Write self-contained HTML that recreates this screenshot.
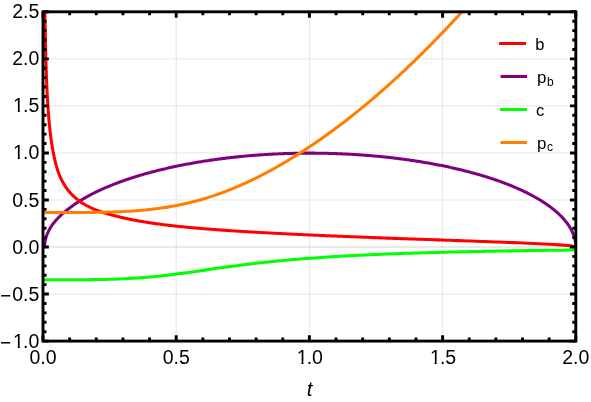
<!DOCTYPE html>
<html>
<head>
<meta charset="utf-8">
<title>Plot</title>
<style>
html,body{margin:0;padding:0;background:#ffffff;}
body{width:591px;height:402px;overflow:hidden;font-family:"Liberation Sans",sans-serif;}
svg{display:block;will-change:transform;}
</style>
</head>
<body>
<svg width="591" height="402" viewBox="0 0 591 402">
<rect x="0" y="0" width="591" height="402" fill="#ffffff"/>
<defs><clipPath id="cp"><rect x="43.00" y="11.80" width="532.80" height="329.30"/></clipPath><clipPath id="c1"><path d="M-1 -16H12V-2.6H6.8V1H4.75V-2.6H-1Z"/></clipPath></defs>
<g fill="none" stroke-linecap="butt">
<line x1="176.20" y1="11.80" x2="176.20" y2="341.10" stroke="#e6e6e6" stroke-width="1"/>
<line x1="309.40" y1="11.80" x2="309.40" y2="341.10" stroke="#e6e6e6" stroke-width="1"/>
<line x1="442.60" y1="11.80" x2="442.60" y2="341.10" stroke="#e6e6e6" stroke-width="1"/>
<line x1="43.00" y1="294.06" x2="575.80" y2="294.06" stroke="#e5e5e5" stroke-width="1"/>
<line x1="43.00" y1="199.97" x2="575.80" y2="199.97" stroke="#e5e5e5" stroke-width="1"/>
<line x1="43.00" y1="152.93" x2="575.80" y2="152.93" stroke="#e5e5e5" stroke-width="1"/>
<line x1="43.00" y1="105.89" x2="575.80" y2="105.89" stroke="#e5e5e5" stroke-width="1"/>
<line x1="43.00" y1="58.84" x2="575.80" y2="58.84" stroke="#e5e5e5" stroke-width="1"/>
<line x1="43.00" y1="247.01" x2="575.80" y2="247.01" stroke="#d4d4d4" stroke-width="1.2"/>
</g>
<g fill="none" stroke-width="3.05" stroke-linejoin="round" stroke-linecap="butt" clip-path="url(#cp)">
<path d="M44.60 247.01 L44.60 247.01 L44.61 247.01 L44.63 246.41 L44.66 245.59 L44.69 244.97 L44.73 244.41 L44.78 243.88 L44.83 243.35 L44.89 242.84 L44.96 242.33 L45.04 241.83 L45.12 241.33 L45.21 240.83 L45.31 240.33 L45.42 239.84 L45.53 239.34 L45.65 238.85 L45.78 238.36 L45.91 237.87 L46.05 237.38 L46.20 236.89 L46.36 236.41 L46.52 235.92 L46.69 235.43 L46.87 234.95 L47.06 234.46 L47.25 233.98 L47.45 233.49 L47.65 233.01 L47.87 232.52 L48.09 232.04 L48.32 231.56 L48.55 231.08 L48.80 230.60 L49.05 230.11 L49.30 229.63 L49.57 229.16 L49.84 228.68 L50.12 228.20 L50.40 227.72 L50.70 227.24 L50.99 226.77 L51.30 226.30 L51.62 225.84 L51.94 225.38 L52.27 224.91 L52.60 224.45 L52.94 223.99 L53.29 223.53 L53.65 223.07 L54.01 222.61 L54.38 222.15 L54.76 221.69 L55.14 221.23 L55.54 220.78 L55.93 220.32 L56.34 219.86 L56.75 219.41 L57.17 218.95 L57.60 218.50 L58.03 218.04 L58.47 217.59 L58.92 217.14 L59.37 216.68 L59.83 216.23 L60.30 215.78 L60.78 215.33 L61.26 214.88 L61.74 214.44 L62.24 213.99 L62.74 213.54 L63.25 213.10 L63.77 212.65 L64.29 212.21 L64.82 211.77 L65.35 211.33 L65.89 210.88 L66.44 210.44 L67.00 210.01 L67.56 209.57 L68.13 209.13 L68.71 208.70 L69.29 208.26 L69.88 207.82 L70.47 207.37 L71.07 206.91 L71.68 206.46 L72.30 206.01 L72.92 205.57 L73.55 205.12 L74.18 204.67 L74.82 204.23 L75.47 203.79 L76.12 203.35 L76.78 202.91 L77.45 202.47 L78.12 202.03 L78.80 201.60 L79.49 201.16 L80.18 200.73 L80.88 200.30 L81.59 199.87 L82.30 199.44 L83.01 199.01 L83.74 198.59 L84.47 198.17 L85.20 197.74 L85.95 197.32 L86.69 196.90 L87.45 196.48 L88.21 196.07 L88.97 195.65 L89.75 195.24 L90.53 194.83 L91.31 194.42 L92.10 194.01 L92.90 193.60 L93.70 193.19 L94.51 192.79 L95.32 192.39 L96.14 191.99 L96.97 191.59 L97.80 191.19 L98.64 190.79 L99.48 190.40 L100.33 190.00 L101.19 189.61 L102.05 189.22 L102.92 188.84 L103.79 188.45 L104.67 188.06 L105.55 187.68 L106.44 187.30 L107.33 186.92 L108.23 186.54 L109.14 186.17 L110.05 185.79 L110.97 185.42 L111.89 185.05 L112.82 184.68 L113.75 184.31 L114.69 183.94 L115.64 183.58 L116.58 183.22 L117.54 182.86 L118.50 182.50 L119.46 182.14 L120.43 181.79 L121.41 181.44 L122.39 181.08 L123.38 180.73 L124.37 180.39 L125.36 180.04 L126.37 179.70 L127.37 179.36 L128.38 179.02 L129.40 178.68 L130.42 178.34 L131.45 178.01 L132.48 177.68 L133.51 177.35 L134.55 177.02 L135.60 176.69 L136.65 176.37 L137.71 176.04 L138.77 175.72 L139.83 175.40 L140.90 175.09 L141.97 174.77 L143.05 174.46 L144.13 174.15 L145.22 173.84 L146.31 173.54 L147.41 173.23 L148.51 172.93 L149.62 172.63 L150.73 172.33 L151.84 172.04 L152.96 171.74 L154.08 171.45 L155.21 171.16 L156.34 170.87 L157.48 170.59 L158.62 170.30 L159.76 170.02 L160.91 169.74 L162.06 169.47 L163.22 169.19 L164.38 168.92 L165.54 168.65 L166.71 168.38 L167.88 168.11 L169.06 167.85 L170.24 167.59 L171.42 167.33 L172.61 167.07 L173.80 166.82 L175.00 166.56 L176.20 166.31 L177.40 166.06 L178.60 165.81 L179.81 165.56 L181.03 165.32 L182.25 165.07 L183.47 164.83 L184.69 164.59 L185.92 164.36 L187.15 164.12 L188.38 163.89 L189.62 163.66 L190.86 163.43 L192.10 163.21 L193.35 162.99 L194.60 162.77 L195.86 162.55 L197.11 162.33 L198.37 162.12 L199.63 161.91 L200.90 161.70 L202.17 161.50 L203.44 161.29 L204.72 161.09 L205.99 160.89 L207.27 160.70 L208.56 160.50 L209.84 160.31 L211.13 160.12 L212.43 159.93 L213.72 159.75 L215.02 159.57 L216.32 159.39 L217.62 159.21 L218.92 159.04 L220.23 158.87 L221.54 158.70 L222.85 158.53 L224.17 158.37 L225.48 158.20 L226.80 158.04 L228.12 157.89 L229.45 157.73 L230.77 157.58 L232.10 157.43 L233.43 157.28 L234.76 157.14 L236.10 157.00 L237.44 156.86 L238.77 156.72 L240.11 156.59 L241.46 156.45 L242.80 156.32 L244.15 156.20 L245.49 156.07 L246.84 155.95 L248.20 155.83 L249.55 155.71 L250.90 155.60 L252.26 155.49 L253.62 155.38 L254.98 155.27 L256.34 155.17 L257.70 155.07 L259.07 154.97 L260.43 154.87 L261.80 154.78 L263.17 154.69 L264.53 154.60 L265.91 154.51 L267.28 154.43 L268.65 154.35 L270.02 154.27 L271.40 154.19 L272.78 154.12 L274.15 154.05 L275.53 153.98 L276.91 153.91 L278.29 153.85 L279.67 153.79 L281.05 153.73 L282.44 153.68 L283.82 153.62 L285.20 153.57 L286.59 153.53 L287.97 153.48 L289.36 153.44 L290.75 153.40 L292.13 153.36 L293.52 153.33 L294.91 153.30 L296.30 153.27 L297.69 153.24 L299.08 153.22 L300.47 153.19 L301.86 153.17 L303.25 153.16 L304.64 153.14 L306.03 153.13 L307.42 153.12 L308.81 153.12 L310.20 153.12 L311.59 153.12 L312.98 153.13 L314.37 153.14 L315.76 153.15 L317.15 153.16 L318.54 153.18 L319.93 153.20 L321.32 153.22 L322.71 153.25 L324.10 153.27 L325.49 153.30 L326.88 153.34 L328.26 153.37 L329.65 153.41 L331.04 153.45 L332.42 153.49 L333.81 153.54 L335.19 153.58 L336.58 153.63 L337.96 153.69 L339.34 153.74 L340.73 153.80 L342.11 153.86 L343.49 153.92 L344.87 153.99 L346.25 154.05 L347.62 154.12 L349.00 154.20 L350.37 154.27 L351.75 154.35 L353.12 154.43 L354.49 154.51 L355.86 154.60 L357.23 154.69 L358.60 154.78 L359.97 154.87 L361.33 154.96 L362.70 155.06 L364.06 155.16 L365.42 155.26 L366.78 155.37 L368.14 155.48 L369.49 155.59 L370.85 155.70 L372.20 155.82 L373.55 155.93 L374.90 156.05 L376.25 156.18 L377.60 156.30 L378.94 156.43 L380.28 156.56 L381.62 156.69 L382.96 156.83 L384.30 156.96 L385.63 157.10 L386.97 157.25 L388.30 157.39 L389.62 157.54 L390.95 157.69 L392.27 157.84 L393.60 157.99 L394.92 158.15 L396.23 158.31 L397.55 158.47 L398.86 158.64 L400.17 158.80 L401.48 158.97 L402.78 159.14 L404.08 159.32 L405.38 159.49 L406.68 159.67 L407.97 159.85 L409.27 160.04 L410.55 160.22 L411.84 160.41 L413.12 160.60 L414.40 160.79 L415.68 160.99 L416.96 161.18 L418.23 161.38 L419.50 161.59 L420.76 161.79 L422.03 162.00 L423.29 162.21 L424.54 162.42 L425.80 162.63 L427.05 162.85 L428.29 163.07 L429.54 163.29 L430.78 163.51 L432.02 163.73 L433.25 163.96 L434.48 164.19 L435.71 164.42 L436.93 164.66 L438.15 164.89 L439.37 165.13 L440.58 165.37 L441.79 165.61 L443.00 165.86 L444.20 166.11 L445.40 166.35 L446.60 166.60 L447.79 166.86 L448.98 167.11 L450.16 167.37 L451.34 167.63 L452.52 167.89 L453.69 168.15 L454.86 168.42 L456.02 168.69 L457.18 168.96 L458.34 169.23 L459.49 169.51 L460.64 169.78 L461.78 170.06 L462.92 170.34 L464.06 170.63 L465.19 170.91 L466.32 171.20 L467.44 171.49 L468.56 171.78 L469.67 172.07 L470.78 172.37 L471.89 172.66 L472.99 172.96 L474.08 173.27 L475.18 173.57 L476.26 173.88 L477.35 174.18 L478.43 174.49 L479.50 174.80 L480.57 175.12 L481.63 175.43 L482.69 175.75 L483.75 176.07 L484.80 176.39 L485.84 176.72 L486.88 177.04 L487.92 177.37 L488.95 177.70 L489.98 178.03 L491.00 178.36 L492.02 178.70 L493.03 179.03 L494.03 179.37 L495.03 179.71 L496.03 180.05 L497.02 180.40 L498.01 180.74 L498.99 181.09 L499.96 181.44 L500.93 181.79 L501.90 182.15 L502.86 182.50 L503.81 182.86 L504.76 183.22 L505.71 183.58 L506.65 183.94 L507.58 184.30 L508.51 184.67 L509.43 185.03 L510.35 185.40 L511.26 185.77 L512.16 186.15 L513.06 186.52 L513.96 186.90 L514.85 187.27 L515.73 187.65 L516.61 188.03 L517.48 188.41 L518.35 188.80 L519.21 189.18 L520.07 189.57 L520.91 189.96 L521.76 190.35 L522.60 190.74 L523.43 191.13 L524.25 191.53 L525.07 191.92 L525.89 192.32 L526.70 192.72 L527.50 193.12 L528.30 193.52 L529.09 193.93 L529.87 194.33 L530.65 194.74 L531.42 195.15 L532.19 195.56 L532.95 195.97 L533.71 196.38 L534.45 196.79 L535.20 197.21 L535.93 197.62 L536.66 198.04 L537.38 198.46 L538.10 198.88 L538.81 199.30 L539.52 199.73 L540.22 200.15 L540.91 200.58 L541.59 201.00 L542.27 201.43 L542.95 201.86 L543.61 202.29 L544.27 202.72 L544.93 203.16 L545.58 203.59 L546.22 204.03 L546.85 204.46 L547.48 204.90 L548.10 205.34 L548.72 205.78 L549.32 206.22 L549.93 206.66 L550.52 207.11 L551.11 207.55 L551.69 208.00 L552.27 208.44 L552.84 208.89 L553.40 209.34 L553.96 209.79 L554.50 210.24 L555.05 210.69 L555.58 211.15 L556.11 211.60 L556.63 212.05 L557.15 212.51 L557.66 212.97 L558.16 213.42 L558.65 213.88 L559.14 214.34 L559.62 214.80 L560.10 215.26 L560.57 215.73 L561.03 216.19 L561.48 216.65 L561.93 217.12 L562.37 217.58 L562.80 218.05 L563.23 218.52 L563.65 218.98 L564.06 219.45 L564.46 219.92 L564.86 220.39 L565.25 220.86 L565.64 221.34 L566.02 221.81 L566.39 222.28 L566.75 222.75 L567.11 223.23 L567.46 223.70 L567.80 224.18 L568.13 224.66 L568.46 225.13 L568.78 225.61 L569.10 226.09 L569.40 226.57 L569.70 227.05 L570.00 227.53 L570.28 228.01 L570.56 228.49 L570.83 228.97 L571.10 229.45 L571.35 229.93 L571.60 230.42 L571.85 230.90 L572.08 231.38 L572.31 231.87 L572.53 232.35 L572.74 232.84 L572.95 233.32 L573.15 233.81 L573.34 234.29 L573.53 234.78 L573.71 235.27 L573.88 235.75 L574.04 236.24 L574.20 236.73 L574.35 237.22 L574.49 237.70 L574.62 238.19 L574.75 238.68 L574.87 239.17 L574.98 239.66 L575.09 240.15 L575.18 240.64 L575.28 241.13 L575.36 241.62 L575.44 242.11 L575.51 242.60 L575.57 243.09 L575.62 243.58 L575.67 244.07 L575.71 244.56 L575.74 245.05 L575.77 245.54 L575.79 246.03 L575.80 246.52 L575.80 247.01" stroke="#800080"/>
<path d="M44.07 -73.31 L44.08 -71.54 L44.09 -69.78 L44.10 -68.03 L44.11 -66.28 L44.12 -64.55 L44.13 -62.83 L44.15 -61.11 L44.16 -59.41 L44.17 -57.71 L44.18 -56.03 L44.19 -54.35 L44.21 -52.68 L44.22 -51.03 L44.23 -49.38 L44.24 -47.74 L44.26 -46.11 L44.27 -44.48 L44.28 -42.87 L44.30 -41.27 L44.31 -39.67 L44.32 -38.09 L44.34 -36.51 L44.35 -34.94 L44.37 -33.38 L44.38 -31.83 L44.39 -30.28 L44.41 -28.75 L44.42 -27.22 L44.44 -25.71 L44.45 -24.20 L44.47 -22.70 L44.48 -21.20 L44.50 -19.72 L44.52 -18.24 L44.53 -16.77 L44.55 -15.31 L44.56 -13.86 L44.58 -12.42 L44.60 -10.98 L44.61 -9.55 L44.63 -8.13 L44.65 -6.72 L44.66 -5.31 L44.68 -3.92 L44.70 -2.53 L44.72 -1.14 L44.73 0.23 L44.75 1.60 L44.77 2.96 L44.79 4.31 L44.81 5.65 L44.83 6.99 L44.85 8.32 L44.86 9.64 L44.88 10.95 L44.90 12.26 L44.92 13.56 L44.94 14.86 L44.96 16.14 L44.98 17.42 L45.00 18.69 L45.03 19.96 L45.05 21.22 L45.07 22.47 L45.09 23.71 L45.11 24.95 L45.13 26.18 L45.16 27.40 L45.18 28.62 L45.20 29.83 L45.22 31.04 L45.25 32.23 L45.27 33.42 L45.29 34.61 L45.32 35.78 L45.34 36.96 L45.37 38.12 L45.39 39.28 L45.42 40.43 L45.44 41.58 L45.47 42.72 L45.49 43.85 L45.52 44.97 L45.54 46.10 L45.57 47.21 L45.60 48.32 L45.62 49.42 L45.65 50.52 L45.68 51.61 L45.71 52.69 L45.73 53.77 L45.76 54.84 L45.79 55.91 L45.82 56.97 L45.85 58.02 L45.88 59.07 L45.91 60.11 L45.94 61.15 L45.97 62.18 L46.00 63.21 L46.03 64.23 L46.06 65.24 L46.10 66.25 L46.13 67.26 L46.16 68.26 L46.19 69.25 L46.23 70.23 L46.26 71.22 L46.30 72.19 L46.33 73.16 L46.36 74.13 L46.40 75.09 L46.43 76.05 L46.47 77.00 L46.51 77.94 L46.54 78.88 L46.58 79.81 L46.62 80.74 L46.66 81.67 L46.69 82.59 L46.73 83.50 L46.77 84.41 L46.81 85.31 L46.85 86.21 L46.89 87.11 L46.93 87.99 L46.97 88.88 L47.01 89.76 L47.05 90.63 L47.10 91.50 L47.14 92.37 L47.18 93.23 L47.23 94.08 L47.27 94.94 L47.31 95.78 L47.36 96.62 L47.40 97.46 L47.45 98.29 L47.50 99.12 L47.54 99.94 L47.59 100.76 L47.64 101.58 L47.69 102.39 L47.74 103.19 L47.78 103.99 L47.83 104.79 L47.88 105.58 L47.94 106.37 L47.99 107.15 L48.04 107.93 L48.09 108.71 L48.14 109.48 L48.20 110.25 L48.25 111.01 L48.31 111.77 L48.36 112.52 L48.42 113.27 L48.47 114.02 L48.53 114.76 L48.59 115.50 L48.65 116.23 L48.71 116.96 L48.77 117.68 L48.83 118.41 L48.89 119.12 L48.95 119.84 L49.01 120.55 L49.07 121.25 L49.13 121.96 L49.20 122.65 L49.26 123.35 L49.33 124.04 L49.39 124.73 L49.46 125.41 L49.53 126.09 L49.60 126.76 L49.66 127.44 L49.73 128.11 L49.80 128.77 L49.88 129.43 L49.95 130.09 L50.02 130.74 L50.09 131.39 L50.17 132.04 L50.24 132.68 L50.32 133.32 L50.39 133.96 L50.47 134.59 L50.55 135.22 L50.63 135.85 L50.70 136.47 L50.79 137.09 L50.87 137.71 L50.95 138.32 L51.03 138.93 L51.11 139.53 L51.20 140.14 L51.28 140.73 L51.37 141.33 L51.46 141.92 L51.55 142.51 L51.63 143.10 L51.72 143.68 L51.82 144.26 L51.91 144.84 L52.00 145.41 L52.09 145.98 L52.19 146.55 L52.28 147.11 L52.38 147.68 L52.48 148.23 L52.58 148.79 L52.68 149.34 L52.78 149.89 L52.88 150.44 L52.98 150.98 L53.09 151.52 L53.19 152.06 L53.30 152.60 L53.40 153.14 L53.51 153.69 L53.62 154.23 L53.73 154.77 L53.84 155.32 L53.96 155.86 L54.07 156.40 L54.19 156.95 L54.30 157.49 L54.42 158.03 L54.54 158.57 L54.66 159.11 L54.78 159.64 L54.90 160.18 L55.03 160.71 L55.15 161.24 L55.28 161.77 L55.41 162.30 L55.54 162.82 L55.67 163.34 L55.80 163.86 L55.93 164.37 L56.07 164.89 L56.20 165.39 L56.34 165.90 L56.48 166.40 L56.62 166.90 L56.76 167.39 L56.90 167.88 L57.05 168.37 L57.20 168.85 L57.34 169.33 L57.49 169.80 L57.64 170.27 L57.80 170.74 L57.95 171.20 L58.11 171.65 L58.26 172.10 L58.42 172.55 L58.58 172.98 L58.75 173.42 L58.91 173.85 L59.07 174.27 L59.24 174.69 L59.41 175.10 L59.58 175.51 L59.75 175.92 L59.93 176.33 L60.11 176.73 L60.28 177.13 L60.46 177.53 L60.65 177.93 L60.83 178.32 L61.01 178.71 L61.20 179.10 L61.39 179.49 L61.58 179.88 L61.78 180.26 L61.97 180.64 L62.17 181.02 L62.37 181.40 L62.57 181.78 L62.77 182.15 L62.98 182.52 L63.19 182.89 L63.40 183.26 L63.61 183.63 L63.83 183.99 L64.04 184.35 L64.26 184.71 L64.48 185.07 L64.71 185.43 L64.93 185.78 L65.16 186.13 L65.39 186.48 L65.62 186.83 L65.86 187.18 L66.10 187.53 L66.34 187.87 L66.58 188.21 L66.83 188.55 L67.08 188.89 L67.33 189.22 L67.58 189.56 L67.84 189.89 L68.09 190.22 L68.36 190.55 L68.62 190.88 L68.89 191.20 L69.16 191.53 L69.43 191.85 L69.70 192.17 L69.98 192.49 L70.26 192.81 L70.55 193.12 L70.83 193.43 L71.12 193.75 L71.42 194.06 L71.71 194.37 L72.01 194.67 L72.31 194.98 L72.62 195.28 L72.93 195.59 L73.24 195.89 L73.55 196.19 L73.87 196.48 L74.19 196.78 L74.52 197.07 L74.84 197.37 L75.18 197.66 L75.51 197.95 L75.85 198.24 L76.19 198.52 L76.54 198.81 L76.89 199.09 L77.24 199.38 L77.60 199.66 L77.96 199.94 L78.32 200.21 L78.69 200.49 L79.06 200.77 L79.43 201.04 L79.81 201.31 L80.20 201.58 L80.58 201.85 L80.98 202.12 L81.37 202.39 L81.77 202.65 L82.17 202.92 L82.58 203.18 L82.99 203.44 L83.41 203.70 L83.83 203.96 L84.26 204.22 L84.69 204.47 L85.12 204.73 L85.56 204.98 L86.00 205.24 L86.45 205.49 L86.90 205.74 L87.36 205.98 L87.82 206.23 L88.29 206.47 L88.76 206.72 L89.23 206.96 L89.72 207.19 L90.20 207.43 L90.69 207.66 L91.19 207.90 L91.69 208.12 L92.20 208.35 L92.71 208.58 L93.23 208.80 L93.75 209.03 L94.28 209.25 L94.81 209.47 L95.35 209.68 L95.90 209.90 L96.45 210.12 L97.01 210.33 L97.57 210.54 L98.14 210.75 L98.71 210.96 L99.29 211.17 L99.88 211.38 L100.47 211.58 L101.07 211.79 L101.67 211.99 L102.28 212.19 L102.90 212.39 L103.52 212.60 L104.15 212.80 L104.79 212.99 L105.43 213.19 L106.08 213.39 L106.74 213.59 L107.40 213.78 L108.07 213.98 L108.75 214.17 L109.44 214.37 L110.13 214.56 L110.83 214.75 L111.53 214.94 L112.25 215.14 L112.97 215.33 L113.70 215.52 L114.43 215.71 L115.18 215.90 L115.93 216.09 L116.69 216.28 L117.45 216.47 L118.23 216.66 L119.01 216.84 L119.80 217.03 L120.60 217.22 L121.41 217.41 L122.23 217.60 L123.05 217.79 L123.89 217.97 L124.73 218.16 L125.58 218.35 L126.44 218.54 L127.31 218.72 L128.19 218.91 L129.07 219.09 L129.97 219.28 L130.87 219.46 L131.79 219.64 L132.71 219.82 L133.65 220.01 L134.59 220.18 L135.55 220.36 L136.51 220.54 L137.48 220.72 L138.47 220.90 L139.46 221.07 L140.46 221.25 L141.48 221.42 L142.50 221.59 L143.54 221.77 L144.59 221.94 L145.64 222.11 L146.71 222.28 L147.79 222.45 L148.88 222.62 L149.99 222.79 L151.10 222.95 L152.23 223.12 L153.36 223.29 L154.51 223.45 L155.67 223.62 L156.85 223.78 L158.03 223.94 L159.23 224.11 L160.44 224.27 L161.66 224.43 L162.90 224.59 L164.15 224.75 L165.41 224.91 L166.68 225.07 L167.97 225.23 L169.27 225.38 L170.59 225.54 L171.91 225.70 L173.26 225.85 L174.61 226.01 L175.98 226.16 L177.37 226.28 L178.77 226.42 L180.18 226.56 L181.61 226.71 L183.05 226.85 L184.51 226.99 L185.98 227.13 L187.47 227.27 L188.98 227.41 L190.49 227.55 L192.03 227.69 L193.58 227.83 L195.15 227.97 L196.73 228.10 L198.33 228.24 L199.95 228.38 L201.59 228.51 L203.24 228.65 L204.91 228.79 L206.59 228.92 L208.29 229.06 L210.02 229.19 L211.75 229.33 L213.51 229.46 L215.29 229.59 L217.08 229.73 L218.89 229.86 L220.72 229.99 L222.57 230.12 L224.44 230.26 L226.33 230.39 L228.24 230.52 L230.17 230.65 L232.12 230.78 L234.09 230.91 L236.08 231.04 L238.09 231.17 L240.12 231.30 L242.17 231.43 L244.25 231.56 L246.34 231.68 L248.46 231.81 L250.60 231.94 L252.76 232.07 L254.94 232.20 L257.15 232.32 L259.38 232.45 L261.63 232.58 L263.91 232.70 L266.21 232.83 L268.53 232.96 L270.88 233.08 L273.25 233.21 L275.65 233.34 L278.07 233.46 L280.52 233.59 L282.99 233.71 L285.49 233.84 L288.02 233.96 L290.57 234.09 L293.14 234.21 L295.75 234.34 L298.38 234.46 L301.04 234.59 L303.72 234.71 L306.44 234.84 L309.18 234.96 L311.95 235.09 L314.75 235.21 L317.58 235.34 L320.44 235.46 L323.33 235.59 L326.25 235.71 L329.20 235.84 L332.18 235.96 L335.19 236.09 L338.23 236.21 L341.30 236.34 L344.41 236.46 L347.55 236.59 L350.72 236.71 L353.92 236.84 L357.16 236.97 L360.43 237.09 L363.74 237.22 L367.08 237.35 L370.45 237.48 L373.86 237.61 L377.30 237.73 L380.78 237.86 L384.30 237.99 L387.85 238.12 L391.45 238.25 L395.07 238.39 L398.74 238.52 L402.44 238.65 L406.18 238.78 L409.97 238.92 L413.79 239.05 L417.65 239.19 L421.55 239.33 L425.49 239.46 L429.47 239.60 L433.50 239.74 L437.56 239.89 L441.67 240.03 L445.82 240.17 L450.01 240.32 L454.25 240.47 L458.53 240.62 L462.86 240.77 L467.23 240.92 L471.65 241.08 L476.11 241.24 L480.62 241.40 L485.18 241.56 L489.78 241.73 L494.43 241.90 L499.13 242.08 L503.88 242.26 L508.68 242.44 L513.53 242.63 L518.43 242.83 L523.38 243.04 L528.38 243.25 L533.43 243.47 L538.54 243.71 L543.70 243.96 L548.91 244.24 L554.18 244.54 L559.50 244.87 L564.88 245.27 L570.31 245.79 L575.80 247.01" stroke="#ff0000"/>
<path d="M43.00 279.76 L44.78 279.76 L46.55 279.76 L48.33 279.76 L50.10 279.76 L51.88 279.76 L53.66 279.76 L55.43 279.76 L57.21 279.76 L58.98 279.76 L60.76 279.76 L62.54 279.76 L64.31 279.76 L66.09 279.75 L67.86 279.75 L69.64 279.75 L71.42 279.75 L73.19 279.74 L74.97 279.74 L76.74 279.73 L78.52 279.72 L80.30 279.71 L82.07 279.71 L83.85 279.69 L85.62 279.68 L87.40 279.67 L89.18 279.65 L90.95 279.63 L92.73 279.61 L94.50 279.59 L96.28 279.57 L98.06 279.54 L99.83 279.51 L101.61 279.48 L103.38 279.44 L105.16 279.41 L106.94 279.36 L108.71 279.32 L110.49 279.27 L112.26 279.22 L114.04 279.16 L115.82 279.10 L117.59 279.04 L119.37 278.97 L121.14 278.90 L122.92 278.82 L124.70 278.73 L126.47 278.65 L128.25 278.55 L130.02 278.46 L131.80 278.35 L133.58 278.25 L135.35 278.13 L137.13 278.01 L138.90 277.89 L140.68 277.76 L142.46 277.62 L144.23 277.48 L146.01 277.34 L147.78 277.18 L149.56 277.03 L151.34 276.86 L153.11 276.70 L154.89 276.52 L156.66 276.34 L158.44 276.16 L160.22 275.97 L161.99 275.78 L163.77 275.58 L165.54 275.38 L167.32 275.17 L169.10 274.96 L170.87 274.74 L172.65 274.52 L174.42 274.30 L176.20 274.07 L177.98 273.84 L179.75 273.61 L181.53 273.37 L183.30 273.13 L185.08 272.89 L186.86 272.64 L188.63 272.40 L190.41 272.15 L192.18 271.90 L193.96 271.65 L195.74 271.40 L197.51 271.14 L199.29 270.89 L201.06 270.63 L202.84 270.38 L204.62 270.12 L206.39 269.87 L208.17 269.62 L209.94 269.36 L211.72 269.11 L213.50 268.85 L215.27 268.60 L217.05 268.35 L218.82 268.10 L220.60 267.85 L222.38 267.60 L224.15 267.36 L225.93 267.11 L227.70 266.87 L229.48 266.63 L231.26 266.39 L233.03 266.16 L234.81 265.92 L236.58 265.69 L238.36 265.46 L240.14 265.23 L241.91 265.01 L243.69 264.78 L245.46 264.56 L247.24 264.34 L249.02 264.13 L250.79 263.92 L252.57 263.70 L254.34 263.50 L256.12 263.29 L257.90 263.09 L259.67 262.89 L261.45 262.69 L263.22 262.49 L265.00 262.30 L266.78 262.11 L268.55 261.92 L270.33 261.74 L272.10 261.56 L273.88 261.38 L275.66 261.20 L277.43 261.03 L279.21 260.85 L280.98 260.68 L282.76 260.52 L284.54 260.35 L286.31 260.19 L288.09 260.03 L289.86 259.87 L291.64 259.72 L293.42 259.56 L295.19 259.41 L296.97 259.26 L298.74 259.12 L300.52 258.97 L302.30 258.83 L304.07 258.69 L305.85 258.56 L307.62 258.42 L309.40 258.29 L311.18 258.15 L312.95 258.03 L314.73 257.90 L316.50 257.77 L318.28 257.65 L320.06 257.53 L321.83 257.41 L323.61 257.29 L325.38 257.17 L327.16 257.06 L328.94 256.94 L330.71 256.83 L332.49 256.72 L334.26 256.62 L336.04 256.51 L337.82 256.41 L339.59 256.30 L341.37 256.20 L343.14 256.10 L344.92 256.00 L346.70 255.91 L348.47 255.81 L350.25 255.72 L352.02 255.62 L353.80 255.53 L355.58 255.44 L357.35 255.35 L359.13 255.26 L360.90 255.18 L362.68 255.09 L364.46 255.01 L366.23 254.93 L368.01 254.85 L369.78 254.77 L371.56 254.69 L373.34 254.61 L375.11 254.53 L376.89 254.46 L378.66 254.38 L380.44 254.31 L382.22 254.24 L383.99 254.16 L385.77 254.09 L387.54 254.03 L389.32 253.96 L391.10 253.89 L392.87 253.82 L394.65 253.76 L396.42 253.69 L398.20 253.63 L399.98 253.57 L401.75 253.50 L403.53 253.44 L405.30 253.38 L407.08 253.32 L408.86 253.26 L410.63 253.20 L412.41 253.15 L414.18 253.09 L415.96 253.04 L417.74 252.98 L419.51 252.93 L421.29 252.87 L423.06 252.82 L424.84 252.77 L426.62 252.72 L428.39 252.66 L430.17 252.61 L431.94 252.56 L433.72 252.52 L435.50 252.47 L437.27 252.42 L439.05 252.37 L440.82 252.33 L442.60 252.28 L444.38 252.24 L446.15 252.19 L447.93 252.15 L449.70 252.10 L451.48 252.06 L453.26 252.02 L455.03 251.97 L456.81 251.93 L458.58 251.89 L460.36 251.85 L462.14 251.81 L463.91 251.77 L465.69 251.73 L467.46 251.69 L469.24 251.66 L471.02 251.62 L472.79 251.58 L474.57 251.54 L476.34 251.51 L478.12 251.47 L479.90 251.44 L481.67 251.40 L483.45 251.37 L485.22 251.33 L487.00 251.30 L488.78 251.27 L490.55 251.23 L492.33 251.20 L494.10 251.17 L495.88 251.14 L497.66 251.10 L499.43 251.07 L501.21 251.04 L502.98 251.01 L504.76 250.98 L506.54 250.95 L508.31 250.92 L510.09 250.89 L511.86 250.86 L513.64 250.83 L515.42 250.81 L517.19 250.78 L518.97 250.75 L520.74 250.72 L522.52 250.70 L524.30 250.67 L526.07 250.64 L527.85 250.62 L529.62 250.59 L531.40 250.57 L533.18 250.54 L534.95 250.51 L536.73 250.49 L538.50 250.47 L540.28 250.44 L542.06 250.42 L543.83 250.39 L545.61 250.37 L547.38 250.35 L549.16 250.32 L550.94 250.30 L552.71 250.28 L554.49 250.25 L556.26 250.23 L558.04 250.21 L559.82 250.19 L561.59 250.17 L563.37 250.15 L565.14 250.13 L566.92 250.10 L568.70 250.08 L570.47 250.06 L572.25 250.04 L574.02 250.02 L575.80 250.00" stroke="#00ff00"/>
<path d="M43.00 212.52 L44.55 212.52 L46.11 212.52 L47.66 212.52 L49.22 212.52 L50.77 212.52 L52.32 212.52 L53.88 212.52 L55.43 212.52 L56.99 212.52 L58.54 212.52 L60.09 212.52 L61.65 212.52 L63.20 212.52 L64.76 212.52 L66.31 212.52 L67.86 212.51 L69.42 212.51 L70.97 212.51 L72.53 212.51 L74.08 212.50 L75.63 212.50 L77.19 212.49 L78.74 212.48 L80.30 212.48 L81.85 212.47 L83.40 212.46 L84.96 212.45 L86.51 212.44 L88.07 212.42 L89.62 212.41 L91.17 212.39 L92.73 212.38 L94.28 212.36 L95.84 212.34 L97.39 212.31 L98.94 212.29 L100.50 212.26 L102.05 212.23 L103.61 212.20 L105.16 212.16 L106.71 212.13 L108.27 212.09 L109.82 212.04 L111.38 212.00 L112.93 211.95 L114.48 211.89 L116.04 211.84 L117.59 211.78 L119.15 211.71 L120.70 211.65 L122.25 211.58 L123.81 211.50 L125.36 211.42 L126.92 211.34 L128.47 211.25 L130.02 211.15 L131.58 211.06 L133.13 210.95 L134.69 210.84 L136.24 210.73 L137.79 210.61 L139.35 210.49 L140.90 210.35 L142.46 210.22 L144.01 210.08 L145.56 209.93 L147.12 209.77 L148.67 209.61 L150.23 209.44 L151.78 209.27 L153.33 209.08 L154.89 208.90 L156.44 208.70 L158.00 208.50 L159.55 208.29 L161.10 208.07 L162.66 207.84 L164.21 207.61 L165.77 207.37 L167.32 207.12 L168.87 206.87 L170.43 206.60 L171.98 206.33 L173.54 206.05 L175.09 205.76 L176.64 205.46 L178.20 205.15 L179.75 204.84 L181.31 204.51 L182.86 204.18 L184.41 203.84 L185.97 203.49 L187.52 203.13 L189.08 202.76 L190.63 202.38 L192.18 202.00 L193.74 201.60 L195.29 201.20 L196.85 200.78 L198.40 200.36 L199.95 199.93 L201.51 199.48 L203.06 199.03 L204.62 198.57 L206.17 198.10 L207.72 197.62 L209.28 197.13 L210.83 196.63 L212.39 196.12 L213.94 195.60 L215.49 195.08 L217.05 194.54 L218.60 193.99 L220.16 193.44 L221.71 192.87 L223.26 192.30 L224.82 191.71 L226.37 191.12 L227.93 190.52 L229.48 189.90 L231.03 189.28 L232.59 188.65 L234.14 188.01 L235.70 187.36 L237.25 186.70 L238.80 186.04 L240.36 185.36 L241.91 184.67 L243.47 183.98 L245.02 183.28 L246.57 182.56 L248.13 181.84 L249.68 181.11 L251.24 180.37 L252.79 179.62 L254.34 178.87 L255.90 178.10 L257.45 177.33 L259.01 176.55 L260.56 175.76 L262.11 174.96 L263.67 174.15 L265.22 173.34 L266.78 172.51 L268.33 171.68 L269.88 170.84 L271.44 169.99 L272.99 169.14 L274.55 168.28 L276.10 167.40 L277.65 166.52 L279.21 165.64 L280.76 164.74 L282.32 163.84 L283.87 162.93 L285.42 162.01 L286.98 161.08 L288.53 160.15 L290.09 159.21 L291.64 158.26 L293.19 157.31 L294.75 156.34 L296.30 155.37 L297.86 154.39 L299.41 153.41 L300.96 152.41 L302.52 151.41 L304.07 150.41 L305.63 149.39 L307.18 148.37 L308.73 147.34 L310.29 146.30 L311.84 145.26 L313.40 144.21 L314.95 143.15 L316.50 142.09 L318.06 141.01 L319.61 139.93 L321.17 138.85 L322.72 137.75 L324.27 136.65 L325.83 135.54 L327.38 134.43 L328.94 133.31 L330.49 132.18 L332.04 131.04 L333.60 129.90 L335.15 128.75 L336.71 127.59 L338.26 126.43 L339.81 125.26 L341.37 124.08 L342.92 122.89 L344.48 121.70 L346.03 120.50 L347.58 119.29 L349.14 118.08 L350.69 116.86 L352.25 115.63 L353.80 114.40 L355.35 113.16 L356.91 111.91 L358.46 110.66 L360.02 109.39 L361.57 108.13 L363.12 106.85 L364.68 105.57 L366.23 104.28 L367.79 102.98 L369.34 101.68 L370.89 100.37 L372.45 99.05 L374.00 97.73 L375.56 96.40 L377.11 95.06 L378.66 93.72 L380.22 92.36 L381.77 91.01 L383.33 89.64 L384.88 88.27 L386.43 86.89 L387.99 85.51 L389.54 84.11 L391.10 82.71 L392.65 81.31 L394.20 79.90 L395.76 78.48 L397.31 77.05 L398.87 75.62 L400.42 74.18 L401.97 72.73 L403.53 71.28 L405.08 69.82 L406.64 68.35 L408.19 66.88 L409.74 65.40 L411.30 63.91 L412.85 62.42 L414.41 60.92 L415.96 59.41 L417.51 57.89 L419.07 56.37 L420.62 54.85 L422.18 53.31 L423.73 51.77 L425.28 50.22 L426.84 48.67 L428.39 47.11 L429.95 45.54 L431.50 43.97 L433.05 42.39 L434.61 40.80 L436.16 39.21 L437.72 37.60 L439.27 36.00 L440.82 34.38 L442.38 32.76 L443.93 31.13 L445.49 29.50 L447.04 27.86 L448.59 26.21 L450.15 24.56 L451.70 22.90 L453.26 21.23 L454.81 19.56 L456.36 17.88 L457.92 16.19 L459.47 14.50 L461.03 12.79 L462.58 11.09 L464.13 9.37 L465.69 7.65 L467.24 5.93 L468.80 4.19 L470.35 2.45 L471.90 0.71 L473.46 -1.05 L475.01 -2.81 L476.57 -4.57 L478.12 -6.34 L479.67 -8.12 L481.23 -9.91 L482.78 -11.70 L484.34 -13.50 L485.89 -15.31 L487.44 -17.12 L489.00 -18.94 L490.55 -20.76 L492.11 -22.60 L493.66 -24.43 L495.21 -26.28 L496.77 -28.13 L498.32 -29.99 L499.88 -31.85 L501.43 -33.73 L502.98 -35.60 L504.54 -37.49 L506.09 -39.38 L507.65 -41.28 L509.20 -43.18" stroke="#ff8000"/>
</g>
<g fill="none" stroke="#000000">
<rect x="43.00" y="11.80" width="532.80" height="329.30" stroke-width="2.90"/>
<path d="M43.00 341.10 V335.25 M43.00 11.80 V17.65 M69.64 341.10 V337.60 M69.64 11.80 V15.30 M96.28 341.10 V337.60 M96.28 11.80 V15.30 M122.92 341.10 V337.60 M122.92 11.80 V15.30 M149.56 341.10 V337.60 M149.56 11.80 V15.30 M176.20 341.10 V335.25 M176.20 11.80 V17.65 M202.84 341.10 V337.60 M202.84 11.80 V15.30 M229.48 341.10 V337.60 M229.48 11.80 V15.30 M256.12 341.10 V337.60 M256.12 11.80 V15.30 M282.76 341.10 V337.60 M282.76 11.80 V15.30 M309.40 341.10 V335.25 M309.40 11.80 V17.65 M336.04 341.10 V337.60 M336.04 11.80 V15.30 M362.68 341.10 V337.60 M362.68 11.80 V15.30 M389.32 341.10 V337.60 M389.32 11.80 V15.30 M415.96 341.10 V337.60 M415.96 11.80 V15.30 M442.60 341.10 V335.25 M442.60 11.80 V17.65 M469.24 341.10 V337.60 M469.24 11.80 V15.30 M495.88 341.10 V337.60 M495.88 11.80 V15.30 M522.52 341.10 V337.60 M522.52 11.80 V15.30 M549.16 341.10 V337.60 M549.16 11.80 V15.30 M575.80 341.10 V335.25 M575.80 11.80 V17.65 M43.00 341.10 H48.85 M575.80 341.10 H569.95 M43.00 331.69 H46.50 M575.80 331.69 H572.30 M43.00 322.28 H46.50 M575.80 322.28 H572.30 M43.00 312.87 H46.50 M575.80 312.87 H572.30 M43.00 303.47 H46.50 M575.80 303.47 H572.30 M43.00 294.06 H48.85 M575.80 294.06 H569.95 M43.00 284.65 H46.50 M575.80 284.65 H572.30 M43.00 275.24 H46.50 M575.80 275.24 H572.30 M43.00 265.83 H46.50 M575.80 265.83 H572.30 M43.00 256.42 H46.50 M575.80 256.42 H572.30 M43.00 247.01 H48.85 M575.80 247.01 H569.95 M43.00 237.61 H46.50 M575.80 237.61 H572.30 M43.00 228.20 H46.50 M575.80 228.20 H572.30 M43.00 218.79 H46.50 M575.80 218.79 H572.30 M43.00 209.38 H46.50 M575.80 209.38 H572.30 M43.00 199.97 H48.85 M575.80 199.97 H569.95 M43.00 190.56 H46.50 M575.80 190.56 H572.30 M43.00 181.15 H46.50 M575.80 181.15 H572.30 M43.00 171.75 H46.50 M575.80 171.75 H572.30 M43.00 162.34 H46.50 M575.80 162.34 H572.30 M43.00 152.93 H48.85 M575.80 152.93 H569.95 M43.00 143.52 H46.50 M575.80 143.52 H572.30 M43.00 134.11 H46.50 M575.80 134.11 H572.30 M43.00 124.70 H46.50 M575.80 124.70 H572.30 M43.00 115.29 H46.50 M575.80 115.29 H572.30 M43.00 105.89 H48.85 M575.80 105.89 H569.95 M43.00 96.48 H46.50 M575.80 96.48 H572.30 M43.00 87.07 H46.50 M575.80 87.07 H572.30 M43.00 77.66 H46.50 M575.80 77.66 H572.30 M43.00 68.25 H46.50 M575.80 68.25 H572.30 M43.00 58.84 H48.85 M575.80 58.84 H569.95 M43.00 49.43 H46.50 M575.80 49.43 H572.30 M43.00 40.03 H46.50 M575.80 40.03 H572.30 M43.00 30.62 H46.50 M575.80 30.62 H572.30 M43.00 21.21 H46.50 M575.80 21.21 H572.30 M43.00 11.80 H48.85 M575.80 11.80 H569.95" stroke-width="2.90"/>
</g>
<g font-family="'Liberation Sans', sans-serif" font-size="19.50" fill="#000000">
<text x="12.19" y="18.35">2.5</text>
<text x="12.19" y="65.39">2.0</text>
<g transform="translate(13.04 112.44)" clip-path="url(#c1)"><text x="0" y="0">1</text></g>
<text x="23.04" y="112.44">.5</text>
<g transform="translate(13.04 159.48)" clip-path="url(#c1)"><text x="0" y="0">1</text></g>
<text x="23.04" y="159.48">.0</text>
<text x="12.19" y="206.52">0.5</text>
<text x="12.19" y="253.56">0.0</text>
<text x="10.85" y="301.51" text-anchor="end" font-size="18.3" stroke="#000000" stroke-width="0.3">−</text>
<text x="12.19" y="300.61">0.5</text>
<text x="10.85" y="348.55" text-anchor="end" font-size="18.3" stroke="#000000" stroke-width="0.3">−</text>
<g transform="translate(13.04 347.65)" clip-path="url(#c1)"><text x="0" y="0">1</text></g>
<text x="23.04" y="347.65">.0</text>
<text x="29.45" y="363.55">0.0</text>
<text x="162.65" y="363.55">0.5</text>
<g transform="translate(296.70 363.55)" clip-path="url(#c1)"><text x="0" y="0">1</text></g>
<text x="306.69" y="363.55">.0</text>
<g transform="translate(429.90 363.55)" clip-path="url(#c1)"><text x="0" y="0">1</text></g>
<text x="439.89" y="363.55">.5</text>
<text x="562.25" y="363.55">2.0</text>
</g>
<text x="309.6" y="395.8" text-anchor="middle" font-family="'Liberation Sans', sans-serif" font-style="italic" font-size="20.5" fill="#000000">t</text>
<g fill="none" stroke-width="3">
<line x1="499.10" y1="43.50" x2="526.00" y2="43.50" stroke="#ff0000"/>
<line x1="500.55" y1="76.50" x2="527.05" y2="76.50" stroke="#800080"/>
<line x1="500.10" y1="109.50" x2="527.00" y2="109.50" stroke="#00ff00"/>
<line x1="500.55" y1="142.50" x2="527.05" y2="142.50" stroke="#ff8000"/>
</g>
<g font-family="'Liberation Sans', sans-serif" fill="#000000">
<text x="535.3" y="49.7" font-size="16.5">b</text>
<text x="537.1" y="83.3" font-size="16.9">p<tspan font-size="12.1" dx="0.5" dy="2.5">b</tspan></text>
<text x="536.1" y="115.9" font-size="16.5">c</text>
<text x="537.1" y="148.8" font-size="16.9">p<tspan font-size="12.1" dx="0.5" dy="2.6">c</tspan></text>
</g>
</svg>
</body>
</html>
